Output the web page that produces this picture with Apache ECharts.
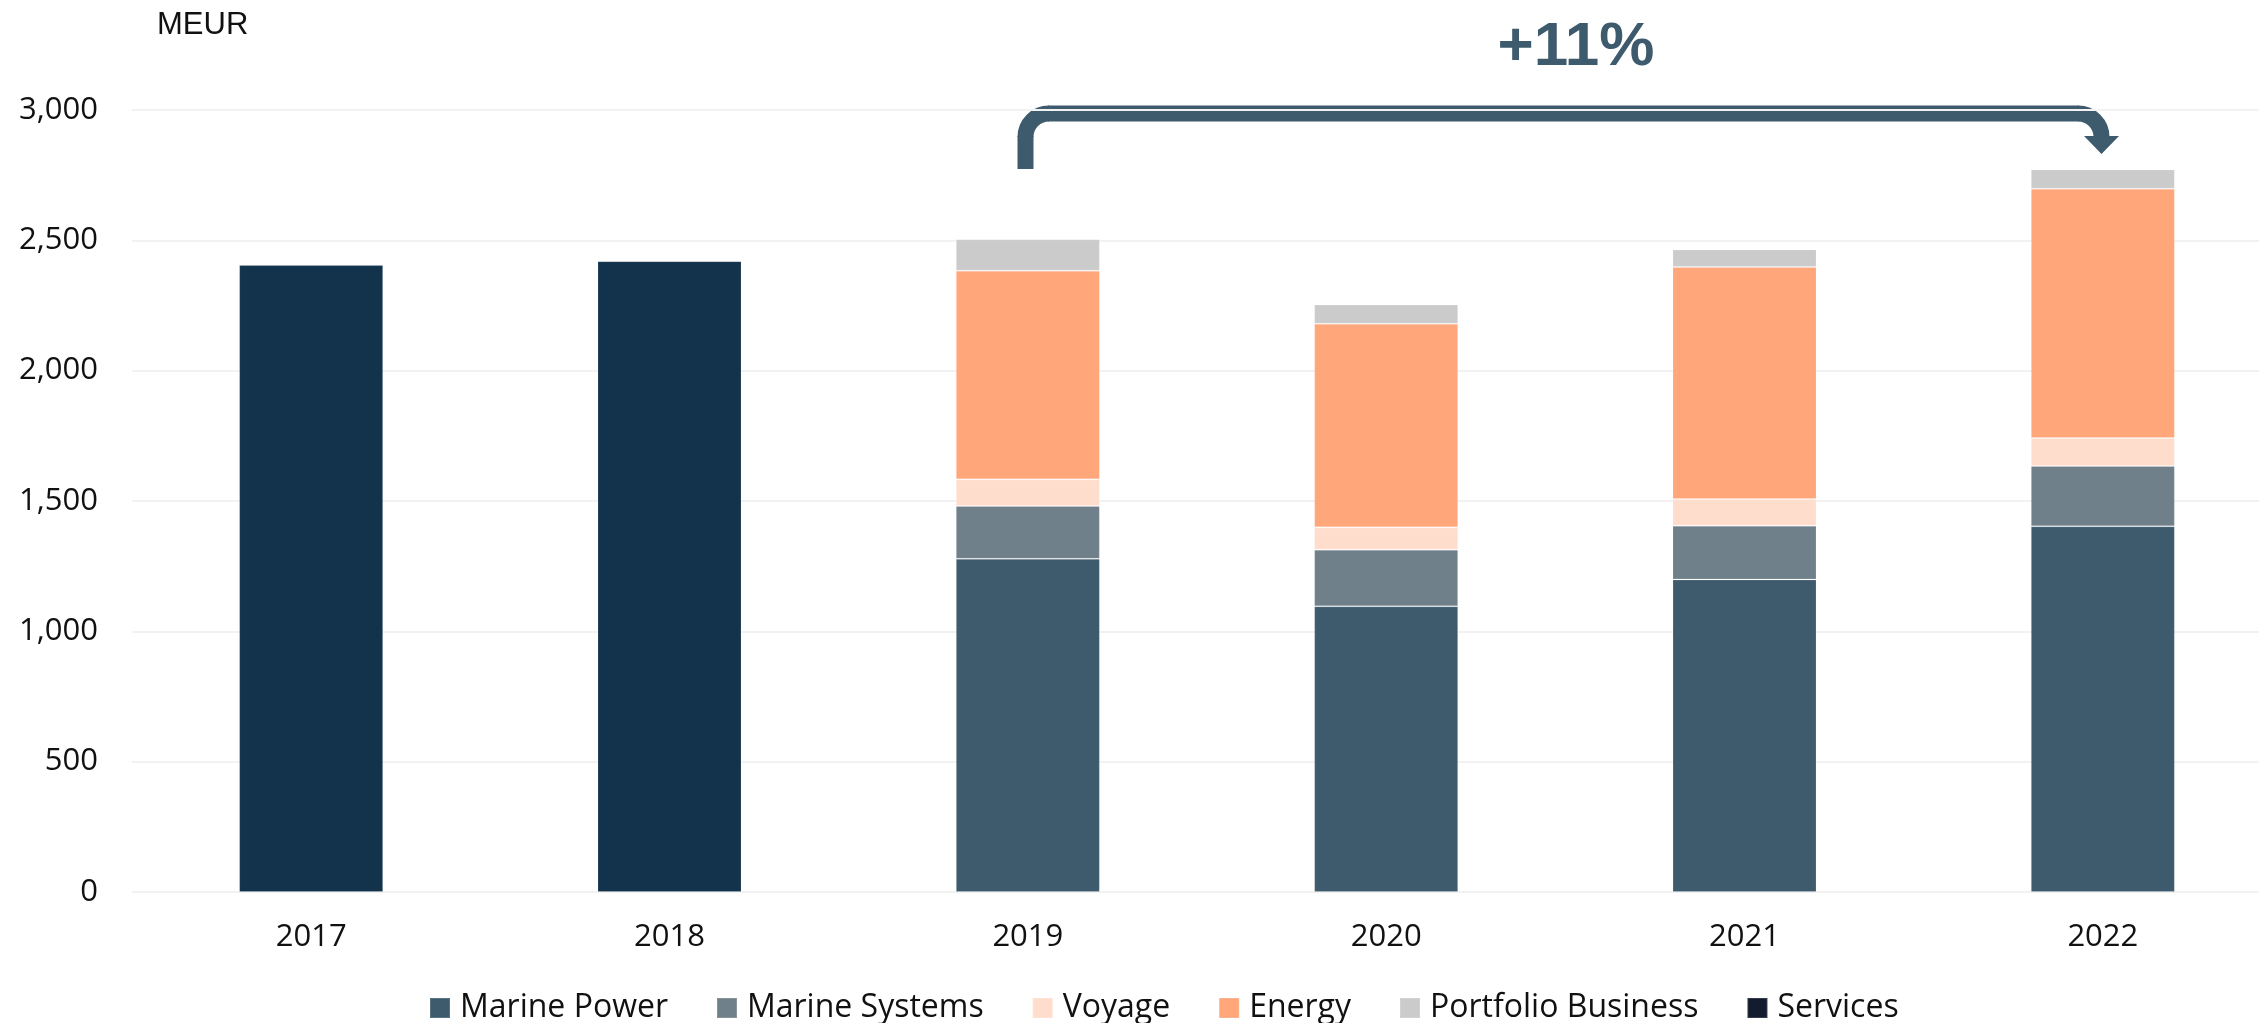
<!DOCTYPE html>
<html>
<head>
<meta charset="utf-8">
<script src="https://cdn.jsdelivr.net/npm/echarts@6/dist/echarts.min.js"></script>
<style>
  html, body { margin: 0; padding: 0; background: #fff; }
  #main { width: 2259px; height: 1023px; }
</style>
</head>
<body>
<div id="main"></div>
<script>
// data
var years = ['2017', '2018', '2019', '2020', '2021', '2022'];
var netSales = [2405, 2420, '-', '-', '-', '-'];        // old reporting, no split
var marinePower = ['-', '-', 1278, 1096, 1199, 1403];
var marineSystems = ['-', '-', 203, 217, 206, 231];
var voyage = ['-', '-', 102, 86, 103, 108];
var energy = ['-', '-', 800, 781, 890, 956];
var portfolio = ['-', '-', 121, 74, 67, 74];
var services = ['-', '-', '-', '-', '-', '-'];
var growthLabel = '+11%';

var myChart = echarts.init(document.getElementById('main'));

var font = '"Open Sans", "Noto Sans", sans-serif';
var arrowColor = '#3E5B6E';

function bar(name, data, color) {
    return {
        name: name,
        type: 'bar',
        stack: 'total',
        barWidth: 144,
        data: data,
        itemStyle: {
            color: color,
            borderColor: 'rgba(255,255,255,0.15)',
            borderWidth: 1
        }
    };
}

// bracket arrow pieces
var lw = 16;
var arrowStyle = { stroke: arrowColor, lineWidth: lw, fill: null };

var option = {
    animation: false,
    // plot runs a bit past the right edge in the original
    grid: { left: 132, right: -23, top: 110, bottom: 131, containLabel: false, outerBoundsMode: 'none' },
    legend: {
        data: ['Marine Power', 'Marine Systems', 'Voyage', 'Energy', 'Portfolio Business', 'Services'],
        left: 424,
        top: 987,
        itemWidth: 20,
        itemHeight: 20,
        itemGap: 48,
        icon: 'rect',
        textStyle: { fontFamily: font, fontSize: 32, color: '#111', padding: [0, 0, 0, 5] }
    },
    xAxis: {
        type: 'category',
        data: years,
        axisLine: { show: false },
        axisTick: { show: false },
        axisLabel: { fontFamily: font, fontSize: 31, color: '#111', margin: 30 }
    },
    yAxis: {
        type: 'value',
        min: 0,
        max: 3000,
        interval: 500,
        axisLine: { show: false },
        axisTick: { show: false },
        axisLabel: {
            fontFamily: font, fontSize: 31, color: '#111', margin: 34,
            formatter: function (v) { return v.toLocaleString('en-US'); }
        },
        splitLine: { lineStyle: { color: '#F2F2F2', width: 2 } }
    },
    series: [
        bar('Net sales', netSales, '#12334B'),
        bar('Marine Power', marinePower, '#3E5B6E'),
        bar('Marine Systems', marineSystems, '#6F808B'),
        bar('Voyage', voyage, '#FFDDCD'),
        bar('Energy', energy, '#FFA67A'),
        bar('Portfolio Business', portfolio, '#CBCBCB'),
        bar('Services', services, '#131B2E')
    ],
    graphic: [
        {
            type: 'text',
            x: 157,
            y: 10,
            style: { text: 'MEUR', font: '31px "Liberation Sans", Arial, sans-serif', fill: '#111' }
        },
        {
            type: 'text',
            x: 1576,
            y: 48,
            style: {
                text: growthLabel,
                font: 'bold 62px "Liberation Sans", Arial, sans-serif',
                fill: arrowColor,
                align: 'center',
                verticalAlign: 'middle'
            }
        },
        { type: 'line', shape: { x1: 1025.5, y1: 169, x2: 1025.5, y2: 136 }, style: arrowStyle },
        {
            type: 'arc',
            shape: { cx: 1049, cy: 137, r: 23.5, startAngle: Math.PI, endAngle: Math.PI * 1.5, clockwise: true },
            style: arrowStyle
        },
        { type: 'line', shape: { x1: 1048, y1: 113.5, x2: 2079, y2: 113.5 }, style: arrowStyle },
        {
            type: 'arc',
            shape: { cx: 2078, cy: 137, r: 23.5, startAngle: Math.PI * 1.5, endAngle: Math.PI * 2, clockwise: true },
            style: arrowStyle
        },
        {
            type: 'polygon',
            shape: { points: [[2084, 136], [2119, 136], [2101.5, 154]] },
            style: { fill: arrowColor }
        }
    ]
};

myChart.setOption(option);
</script>
</body>
</html>
